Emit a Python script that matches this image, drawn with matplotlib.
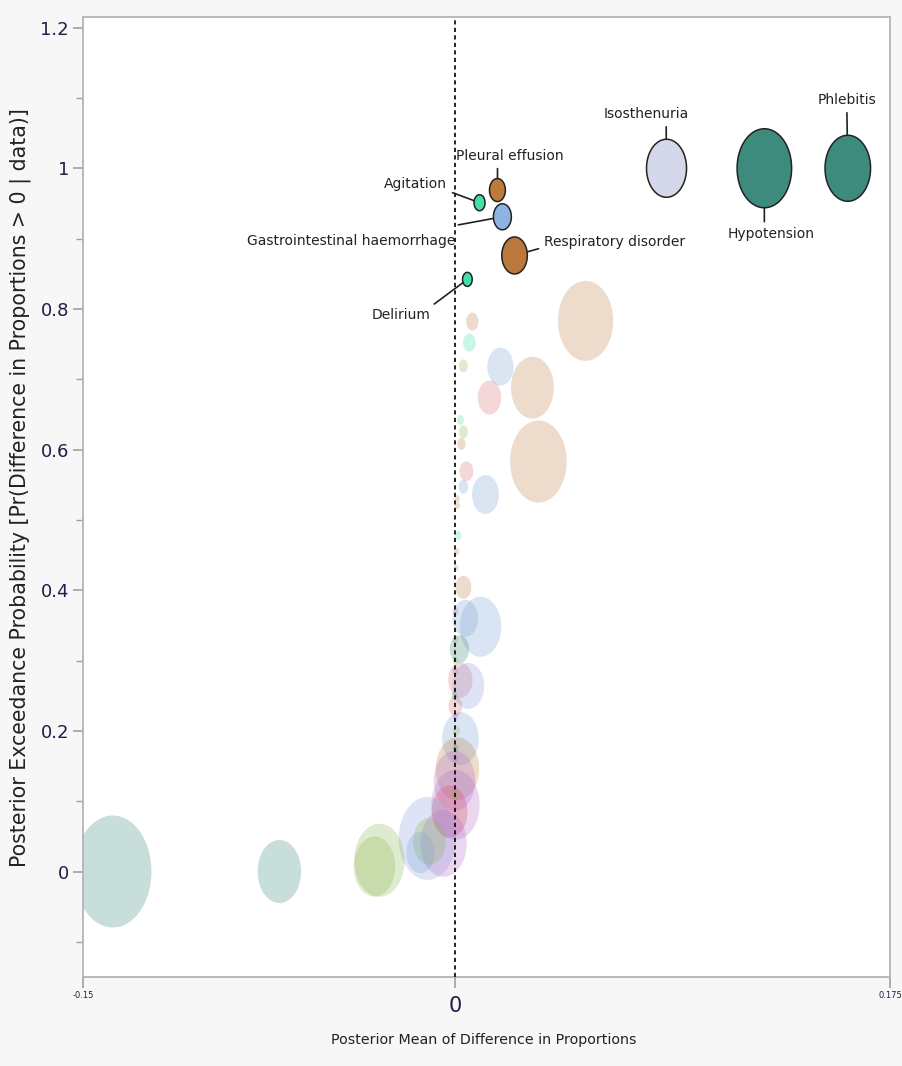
import matplotlib
matplotlib.use("Agg")
import matplotlib.pyplot as plt
import numpy as np
from matplotlib import font_manager
from matplotlib.colors import to_rgba

# the source chart was squeezed sideways: use a narrow face for horizontal text if we have one
names = {f.name for f in font_manager.fontManager.ttflist}
if "Liberation Sans Narrow" in names:
    NARROW, W = "Liberation Sans Narrow", 0.74
elif "DejaVu Sans Condensed" in names:
    NARROW, W = "DejaVu Sans Condensed", 0.9
else:
    NARROW, W = "DejaVu Sans", 1.0
plt.rcParams["font.family"] = [NARROW, "DejaVu Sans"]
FS = 10 / W

palette = {
    "tan": "#C0804A",
    "blue": "#7BA3D6",
    "mint": "#3FE0A0",
    "teal": "#3A8A7C",
    "pink": "#D87070",
    "red": "#D84858",
    "green": "#8CB850",
    "purple": "#B070C8",
    "lav": "#8C9CE0",
}

# faded (non-labelled) adverse events
fx = [0.0524, 0.0310, 0.0334, 0.0181, 0.0137, 0.0068, 0.0056, 0.0032, 0.0020, 0.0032,
      0.0024, 0.0044, 0.0032, 0.0121, 0.0008, 0.0008, 0.0012, 0.0006, 0.0004, 0.0032,
      0.0040, 0.0101, 0.0016, 0.0020, 0.0052, 0.0000, 0.0020, 0.0008, -0.0004, 0.0000,
      -0.0024, -0.0113, -0.0048, -0.0105, -0.0141, -0.1380, -0.0709, -0.0306, -0.0326,
      0.0000, 0.0000, -0.0004, 0.0000, 0.0004, 0.0000, 0.0000, 0.0000, 0.0000, 0.0000]
fy = [0.783, 0.688, 0.583, 0.718, 0.674, 0.782, 0.752, 0.719, 0.642, 0.625,
      0.608, 0.569, 0.547, 0.536, 0.530, 0.520, 0.478, 0.455, 0.432, 0.404,
      0.360, 0.348, 0.316, 0.272, 0.264, 0.235, 0.189, 0.146, 0.129, 0.095,
      0.085, 0.047, 0.040, 0.043, 0.027, 0.000, 0.000, 0.016, 0.007,
      0.300, 0.285, 0.250, 0.220, 0.200, 0.175, 0.160, 0.110, 0.330, 0.370]
fsize = [80, 62, 82, 38, 34, 18, 18, 13, 10, 13,
         12, 20, 14, 39, 7, 7, 9, 7, 6, 23,
         37, 60, 28, 35, 46, 20, 53, 63, 60, 70,
         52, 83, 67, 47, 41, 112, 63, 73, 60,
         8, 8, 8, 8, 10, 8, 8, 10, 8, 8]
fcol = ["tan", "tan", "tan", "blue", "pink", "tan", "mint", "green", "mint", "green",
        "tan", "pink", "blue", "blue", "tan", "tan", "mint", "tan", "tan", "tan",
        "blue", "blue", "teal", "pink", "lav", "pink", "blue", "tan", "purple", "purple",
        "red", "lav", "purple", "green", "blue", "teal", "teal", "green", "green",
        "green", "purple", "teal", "purple", "green", "teal", "purple", "green", "green", "purple"]

# labelled adverse events
events = ["Agitation", "Pleural effusion", "Gastrointestinal haemorrhage",
          "Respiratory disorder", "Delirium", "Isosthenuria", "Hypotension", "Phlebitis"]
ex = [0.0097, 0.0169, 0.0189, 0.0238, 0.0048, 0.0850, 0.1244, 0.1580]
ey = [0.951, 0.969, 0.931, 0.876, 0.842, 1.000, 1.000, 1.000]
esize = [16, 23, 26, 37, 14, 58, 79, 66]
ecol = ["#40E0A8", "#BF7A3B", "#8DB3E2", "#BA783A", "#40E0A8", "#D4D8EA", "#3D8B7D", "#3D8B7D"]

# label placement (offset of text centre in points, relpos of line start)
offsets = [(-46, 13.7), (8.6, 24.5), (-108.7, -17.3), (72, 10), (-48, -26),
           (-14.4, 38.9), (5, -47.5), (-0.7, 49)]
relpos = [(1.0, 0.0), (0.39, 0.0), (1.0, 1.6), (0.0, 0.1), (1.0, 1.1),
          (0.73, 0.0), (0.42, 1.0), (0.5, 0.0)]
shrink = [0.36, 0.5, 0.36, 0.36, 0.4, 0.5, 0.5, 0.5]

# vertically stretched ellipse marker
t = np.linspace(0, 2 * np.pi, 120)
ellipse = np.column_stack([0.69 * np.cos(t), np.sin(t)])

fig = plt.figure(figsize=(9.02, 10.66), dpi=100, facecolor="#F7F7F7")
ax = fig.add_axes([0.092, 0.0835, 0.8947, 0.9005])
ax.set_facecolor("white")

px2pt = 0.72
ax.scatter(fx, fy, s=(np.array(fsize) * px2pt) ** 2, marker=ellipse,
           c=[to_rgba(palette[c], 0.28) for c in fcol], linewidths=0, zorder=2)

ax.axvline(0, color="black", lw=1.2, ls=(0, (2.5, 2)), zorder=3)

ax.scatter(ex, ey, s=(np.array(esize) * px2pt) ** 2, marker=ellipse,
           c=ecol, edgecolors="#222222", linewidths=1.1, zorder=4)

for i, name in enumerate(events):
    ax.annotate(name, (ex[i], ey[i]), xytext=offsets[i], textcoords="offset points",
                ha="center", va="center", fontsize=FS, color="#222222",
                arrowprops=dict(arrowstyle="-", color="#222222", lw=1.2,
                                relpos=relpos[i], shrinkA=2,
                                shrinkB=esize[i] * px2pt * shrink[i]),
                zorder=5)

ax.set_xlim(-0.15, 0.175)
ax.set_ylim(-0.15, 1.215)

ax.set_yticks([0, 0.2, 0.4, 0.6, 0.8, 1.0, 1.2])
ax.set_yticklabels(["0", "0.2", "0.4", "0.6", "0.8", "1", "1.2"], fontsize=13,
                   color="#1E1E46", family="DejaVu Sans")
ax.set_yticks(np.arange(-0.1, 1.21, 0.2), minor=True)
ax.tick_params(axis="y", which="major", length=7, color="#A0A0A0", width=1.2, pad=3)
ax.tick_params(axis="y", which="minor", length=5, color="#A0A0A0", width=1.0)

ax.set_xticks([-0.15, 0, 0.175])
ax.set_xticklabels(["-0.15", "0", "0.175"])
ax.tick_params(axis="x", length=8, color="#A0A0A0", width=1.2, pad=2)
xl = ax.get_xticklabels()
xl[0].set_fontsize(6)
xl[2].set_fontsize(6)
xl[1].set_fontsize(15)
for lab in xl:
    lab.set_color("#1E1E46")
zero_tick = ax.xaxis.get_major_ticks()[1]
zero_tick.tick1line.set_markersize(14)
zero_tick.tick1line.set_color("#111111")
zero_tick.set_pad(6)

for sp in ax.spines.values():
    sp.set_color("#B4B4B4")
    sp.set_linewidth(1.3)

ax.set_xlabel("Posterior Mean of Difference in Proportions", fontsize=10.3 / W,
              color="#222222")
ax.xaxis.set_label_coords(0.497, -0.058)
ax.set_ylabel("Posterior Exceedance Probability [Pr(Difference in Proportions > 0 | data)]",
              fontsize=14.8, color="#222222", family="DejaVu Sans")
ax.yaxis.set_label_coords(-0.064, 0.51)

fig.savefig("out.png", dpi=100, facecolor=fig.get_facecolor())
